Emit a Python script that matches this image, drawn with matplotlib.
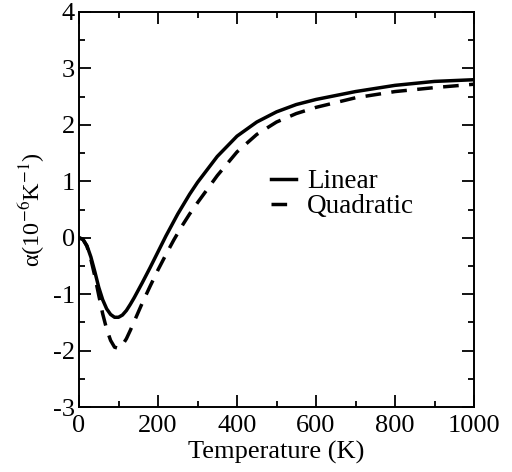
import numpy as np
import matplotlib
matplotlib.use('Agg')
import matplotlib.pyplot as plt

plt.rcParams['font.family'] = ['Liberation Serif', 'DejaVu Serif']
plt.rcParams['mathtext.fontset'] = 'stix'
plt.rcParams['axes.unicode_minus'] = False

# --- data ---
t_lin = [0, 10, 20, 30, 40, 50, 60, 70, 80, 90, 100, 110, 120, 130, 140, 150, 160,
         180, 200, 220, 250, 280, 300, 350, 400, 450, 500, 550, 600, 700, 800, 900, 1000]
a_lin = [0.0, -0.03, -0.14, -0.34, -0.60, -0.88, -1.10, -1.26, -1.36, -1.41, -1.41,
         -1.37, -1.29, -1.18, -1.06, -0.93, -0.80, -0.53, -0.25, 0.03, 0.42, 0.77,
         0.98, 1.44, 1.80, 2.05, 2.23, 2.36, 2.45, 2.59, 2.70, 2.77, 2.80]

t_quad = [0, 10, 20, 30, 40, 50, 60, 70, 80, 90, 100, 110, 120, 130, 140, 150, 160,
          180, 200, 220, 240, 260, 280, 300, 350, 400, 450, 500, 550, 600, 700, 800,
          900, 1000]
a_quad = [0.0, -0.03, -0.15, -0.38, -0.68, -1.02, -1.35, -1.62, -1.82, -1.94, -1.96,
          -1.90, -1.79, -1.64, -1.48, -1.32, -1.16, -0.86, -0.57, -0.30, -0.04, 0.20,
          0.42, 0.62, 1.10, 1.52, 1.83, 2.05, 2.20, 2.31, 2.48, 2.59, 2.66, 2.72]

fig = plt.figure(figsize=(5.12, 4.72), dpi=100)
ax = fig.add_axes([79 / 512, 1 - 407 / 472, 395 / 512, 395 / 472])

ax.plot(t_lin, a_lin, color='black', lw=2.5, label='Linear')
ax.plot(t_quad, a_quad, color='black', lw=2.5, dashes=(4.5, 3), label='Quadratic')

ax.set_xlim(0, 1000)
ax.set_ylim(-3, 4)
ax.set_xticks(np.arange(0, 1001, 200))
ax.set_xticks(np.arange(0, 1001, 100), minor=True)
ax.set_yticks(np.arange(-3, 5, 1))
ax.set_yticks(np.arange(-3, 4.01, 0.5), minor=True)
ax.tick_params(which='both', direction='in', top=True, right=True, width=1.3,
               labelsize=19, pad=3)
ax.tick_params(axis='x', which='both', pad=5.5)
ax.tick_params(which='major', length=8.5)
ax.tick_params(which='minor', length=4.3)
for s in ax.spines.values():
    s.set_linewidth(1.4)

ax.set_xlabel('Temperature (K)', fontsize=19, labelpad=3)
ax.set_ylabel('α(10$^{-6}$K$^{-1}$)', fontsize=17.5, labelpad=4)

ax.legend(loc='center left', bbox_to_anchor=(0.425, 0.538), frameon=False,
          fontsize=19.5, handlelength=0.92, handletextpad=0.4, labelspacing=0.0)

plt.savefig('out.png', dpi=100)
